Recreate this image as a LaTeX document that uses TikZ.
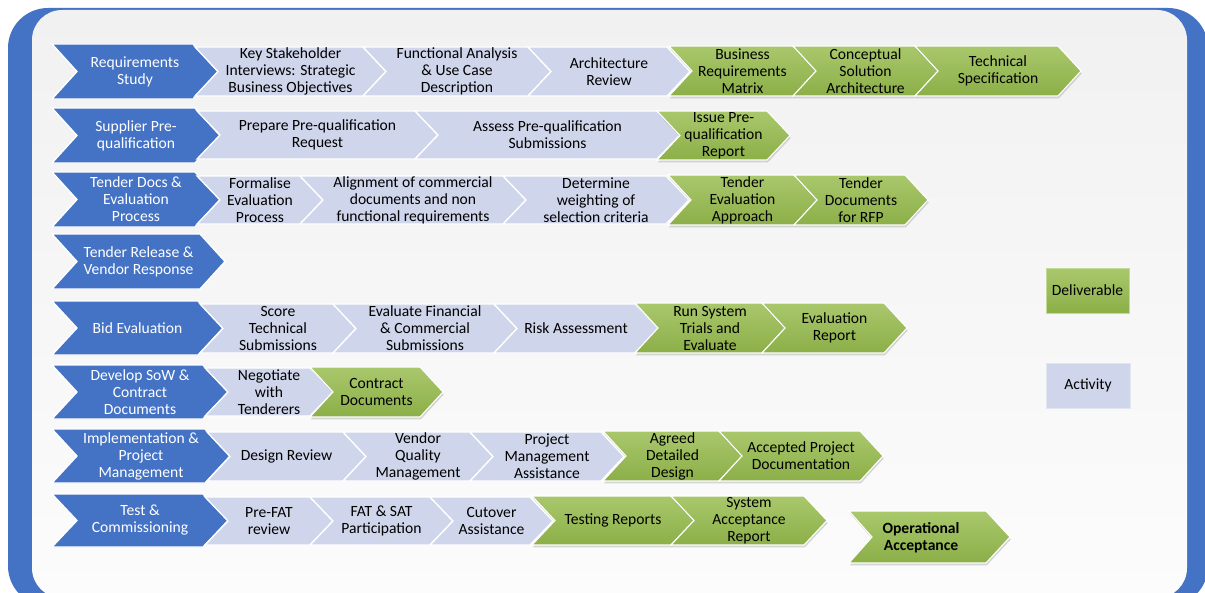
\documentclass[tikz,border=0pt]{standalone}
\usepackage{fontspec}
\setmainfont{Carlito}
\usetikzlibrary{shadows}

\definecolor{frameblue}{HTML}{4472C4}
\definecolor{actfill}{HTML}{CFD5EA}
\definecolor{deltop}{HTML}{A9C86C}
\definecolor{delbot}{HTML}{8CAF48}
\definecolor{panetop}{HTML}{F1F1F1}
\definecolor{panebot}{HTML}{FCFCFC}

\tikzset{
  bluechev/.style={fill=frameblue, draw=white, line width=1pt},
  actchev/.style={fill=actfill, draw=white, line width=1pt},
  delchev/.style={top color=deltop, bottom color=delbot, draw=white, line width=0.8pt,
    drop shadow={shadow xshift=0.6pt, shadow yshift=-1.8pt, opacity=0.3}},
  basetxt/.style={align=center, inner sep=0pt, font=\fontsize{11.7}{12.75}\selectfont},
  bluetxt/.style={basetxt, text=white},
  acttxt/.style={basetxt, text=black},
  deltxt/.style={basetxt, text=black},
  deltxtb/.style={align=center, inner sep=0pt, text=black,
    font=\fontsize{11.7}{12.75}\selectfont\bfseries},
}

% \chev[depth]{name}{kind}{left}{right}{top}{bottom}{text}
\newcommand{\chev}[8][23]{%
  \path[#3chev] (#4,#6) -- (#5,#6) -- ({#5+#1},{(#6+#7)/2}) -- (#5,#7) -- (#4,#7)
    -- ({#4+#1},{(#6+#7)/2}) -- cycle;
  \node[#3txt] (#2) at ({(#4+#5+#1)/2},{(#6+#7)/2}) {#8};
}

\begin{document}
\begin{tikzpicture}[x=0.75pt, y=-0.75pt]
\useasboundingbox (0,0) rectangle (1205,592);

% frame and pane
\fill[frameblue, rounded corners=30pt] (8,8) rectangle (1208,606);
\path[top color=panetop, bottom color=panebot, rounded corners=22.5pt] (32,10) rectangle (1187,598);

% Row 1: requirements study
\chev[25]{rs}{blue}{52}{193}{44}{99}{Requirements\\Study}
\chev{ks}{act}{195}{363}{47}{96}{Key Stakeholder\\Interviews: Strategic\\Business Objectives}
\chev{fa}{act}{363}{528}{47}{96}{Functional Analysis\\\& Use Case\\Description}
\chev{ar}{act}{528}{667}{47}{96}{Architecture\\Review}
\chev{brm}{del}{669}{793}{46}{96}{Business\\Requirements\\Matrix}
\chev{csa}{del}{793}{915}{46}{96}{Conceptual\\Solution\\Architecture}
\chev{ts}{del}{915}{1058}{46}{96}{Technical\\Specification}

% Row 2: supplier pre-qualification
\chev[25]{sp}{blue}{52}{195}{108}{163}{Supplier Pre-\\qualification}
\chev{pp}{act}{197}{415}{111}{159}{Prepare Pre-qualification\\Request}
\chev{ap}{act}{415}{657}{111}{159}{Assess Pre-qualification\\Submissions}
\chev{ip}{del}{657}{767}{111}{160}{Issue Pre-\\qualification\\Report}

% Row 3: tender documents
\chev[25]{td}{blue}{52}{195}{172}{227}{Tender Docs \&\\Evaluation\\Process}
\chev{fe}{act}{197}{300}{176}{224}{Formalise\\Evaluation\\Process}
\chev{al}{act}{300}{503}{176}{224}{Alignment of commercial\\documents and non\\functional requirements}
\chev{dw}{act}{503}{666}{176}{224}{Determine\\weighting of\\selection criteria}
\chev{tea}{del}{668}{794}{175}{225}{Tender\\Evaluation\\Approach}
\chev{tdr}{del}{794}{905}{175}{225}{Tender\\Documents\\for RFP}

% Row 4: tender release
\chev[25]{tr}{blue}{52}{200}{234}{289}{Tender Release \&\\Vendor Response}

% Row 5: bid evaluation
\chev[25]{be}{blue}{52}{198}{301}{355}{Bid Evaluation}
\chev{st}{act}{200}{333}{304}{353}{Score\\Technical\\Submissions}
\chev{ef}{act}{333}{494}{304}{353}{Evaluate Financial\\\& Commercial\\Submissions}
\chev{ra}{act}{494}{635}{304}{353}{Risk Assessment}
\chev{rst}{del}{635}{762}{303}{353}{Run System\\Trials and\\Evaluate}
\chev{er}{del}{762}{884}{303}{353}{Evaluation\\Report}

% Row 6: statement of work
\chev[25]{sow}{blue}{52}{203}{365}{419}{Develop SoW \&\\Contract\\Documents}
\chev{nt}{act}{205}{310}{368}{416}{Negotiate\\with\\Tenderers}
\chev{cd}{del}{310}{420}{367}{417}{Contract\\Documents}

% Row 7: implementation
\chev[25]{ipm}{blue}{52}{205}{429}{483}{Implementation \&\\Project\\Management}
\chev{dr}{act}{207}{343}{432}{481}{Design Review}
\chev{vq}{act}{343}{470}{432}{481}{Vendor\\Quality\\Management}
\chev{pm}{act}{470}{601}{432}{481}{Project\\Management\\Assistance}
\chev{ad}{del}{603}{719}{431}{481}{Agreed\\Detailed\\Design}
\chev{apd}{del}{719}{860}{431}{481}{Accepted Project\\Documentation}

% Row 8: test and commissioning
\chev[25]{tc}{blue}{52}{203}{494}{547}{Test \&\\Commissioning}
\chev{pf}{act}{205}{310}{497}{545}{Pre-FAT\\review}
\chev{fs}{act}{310}{430}{497}{545}{FAT \& SAT\\Participation}
\chev{ca}{act}{430}{530}{497}{545}{Cutover\\Assistance}
\chev{trp}{del}{532}{671}{496}{545}{Testing Reports}
\chev{sar}{del}{671}{804}{496}{545}{System\\Acceptance\\Report}

% final milestone
\path[delchev] (849,511) -- (986,511) -- (1010,537) -- (986,563) -- (849,563) -- (872,537) -- cycle;
\node[deltxtb] (oa) at (921,538) {Operational\\Acceptance};

% legend
\node[basetxt, top color=deltop, bottom color=delbot, draw=deltop!70!white, line width=0.5pt,
  minimum width=62.25pt, minimum height=33.75pt] (legdel) at (1087.5,290.5) {Deliverable};
\node[basetxt, fill=actfill, draw=actfill!60!white, line width=0.5pt,
  minimum width=63pt, minimum height=33.75pt] (legact) at (1088,385.5) {Activity};
\end{tikzpicture}
\end{document}
